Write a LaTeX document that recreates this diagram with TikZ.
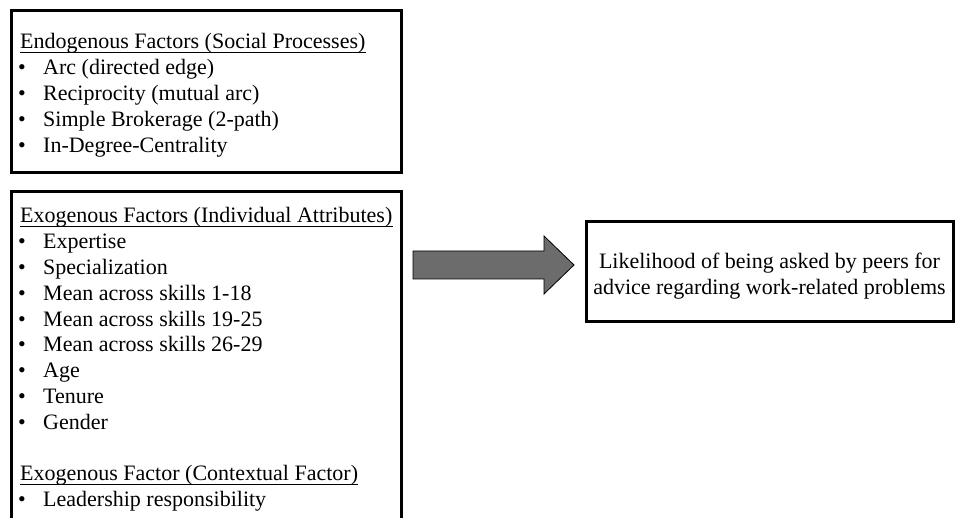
\documentclass[tikz,border=0pt]{standalone}
\usepackage{fontspec}
\setmainfont{Liberation Serif}
\definecolor{arrowGray}{RGB}{108,108,108}

\begin{document}
\begin{tikzpicture}[
    x=1pt,
    y=1pt,
    factor box/.style={
        draw=black,
        line width=3pt,
        inner sep=0pt
    },
    heading/.style={
        anchor=base west,
        inner sep=0pt,
        font=\fontsize{22}{25.8}\selectfont
    },
    listitem/.style={
        anchor=base west,
        inner sep=0pt,
        font=\fontsize{22}{25.8}\selectfont
    },
    listbullet/.style={
        anchor=base,
        inner sep=0pt,
        font=\fontsize{22}{25.8}\selectfont
    },
    headrule/.style={
        black,
        line width=1.2pt
    },
    outcome text/.style={
        align=center,
        inner sep=0pt,
        font=\fontsize{22}{25.8}\selectfont
    },
    block arrow/.style={
        fill=arrowGray,
        draw=black,
        line width=0.8pt,
        line join=miter
    }
]

\useasboundingbox (0,0) rectangle (956,518);
\clip (0,0) rectangle (956,518);

%------------------------------------------------
% Endogenous factors (top box)
%------------------------------------------------
\node[factor box, minimum width=390pt, minimum height=162pt]
    (endo) at (206.5,426) {};

\node[heading] (endohead) at (20,469)
    {Endogenous Factors (Social Processes)};
\draw[headrule] ([yshift=-3.5pt]endohead.base west)
    -- ([yshift=-3.5pt]endohead.base east);

\foreach \entry [count=\i] in {Arc (directed edge),
        Reciprocity (mutual arc),
        Simple Brokerage (2-path),
        In-Degree-Centrality}{
    \node[listbullet] (endobullet\i) at (22,469-25.8*\i) {\textbullet};
    \node[listitem] (endoitem\i) at (43,469-25.8*\i) {\entry};
}

%------------------------------------------------
% Exogenous factors (bottom box, runs off the page)
%------------------------------------------------
\node[factor box, minimum width=390pt, minimum height=346pt]
    (exo) at (206.5,153) {};

\node[heading] (exohead) at (20,295)
    {Exogenous Factors (Individual Attributes)};
\draw[headrule] ([yshift=-3.5pt]exohead.base west)
    -- ([yshift=-3.5pt]exohead.base east);

\foreach \entry [count=\i] in {Expertise,
        Specialization,
        Mean across skills 1-18,
        Mean across skills 19-25,
        Mean across skills 26-29,
        Age,
        Tenure,
        Gender}{
    \node[listbullet] (exobullet\i) at (22,295-25.8*\i) {\textbullet};
    \node[listitem] (exoitem\i) at (43,295-25.8*\i) {\entry};
}

% Contextual factor
\node[heading] (ctxhead) at (20,37)
    {Exogenous Factor (Contextual Factor)};
\draw[headrule] ([yshift=-3.5pt]ctxhead.base west)
    -- ([yshift=-3.5pt]ctxhead.base east);

\node[listbullet] (ctxbullet) at (22,11.2) {\textbullet};
\node[listitem] (ctxitem) at (43,11.2) {Leadership responsibility};

%------------------------------------------------
% Outcome
%------------------------------------------------
\node[factor box, minimum width=367pt, minimum height=100pt]
    (outcome) at (769.5,246) {};

\node[outcome text] (outcometext) at ([yshift=-4pt]outcome.center)
    {Likelihood of being asked by peers for\\
     advice regarding work-related problems};

%------------------------------------------------
% Block arrow
%------------------------------------------------
\draw[block arrow] (413,239) -- ++(131,0) -- ++(0,-15)
    -- (574,253) -- ++(-30,29) -- ++(0,-15) -- ++(-131,0) -- cycle;

\end{tikzpicture}
\end{document}
